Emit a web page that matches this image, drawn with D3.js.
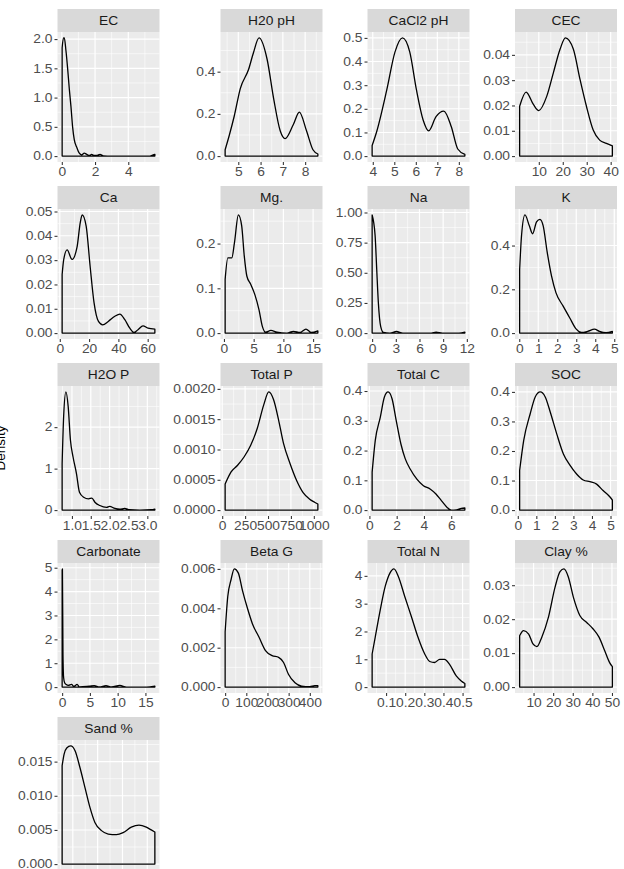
<!DOCTYPE html>
<html>
<head>
<meta charset="utf-8">
<script src="https://cdn.jsdelivr.net/npm/d3@7"></script>
<style>
  body { margin: 0; background: #fff; }
  text { font-family: "Liberation Sans", Arial, Helvetica, sans-serif; }
</style>
</head>
<body>
<svg id="chart"></svg>
<script>
// facet names, in reading order
var panelNames = ["EC", "H20 pH", "CaCl2 pH", "CEC",
                  "Ca", "Mg.", "Na", "K",
                  "H2O P", "Total P", "Total C", "SOC",
                  "Carbonate", "Beta G", "Total N", "Clay %",
                  "Sand %"];

// tick labels per facet (free scales)
var xTickLabels = [
  ["0","2","4"], ["5","6","7","8"], ["4","5","6","7","8"], ["10","20","30","40"],
  ["0","20","40","60"], ["0","5","10","15"], ["0","3","6","9","12"], ["0","1","2","3","4","5"],
  ["1.0","1.5","2.0","2.5","3.0"], ["0","250","500","750","1000"], ["0","2","4","6"], ["0","1","2","3","4","5"],
  ["0","5","10","15"], ["0","100","200","300","400"], ["0.1","0.2","0.3","0.4","0.5"], ["10","20","30","40","50"],
  ["20","40","60","80"]
];
var yTickLabels = [
  ["0.0","0.5","1.0","1.5","2.0"], ["0.0","0.2","0.4"], ["0.0","0.1","0.2","0.3","0.4","0.5"], ["0.00","0.01","0.02","0.03","0.04"],
  ["0.00","0.01","0.02","0.03","0.04","0.05"], ["0.0","0.1","0.2"], ["0.00","0.25","0.50","0.75","1.00"], ["0.0","0.2","0.4"],
  ["0","1","2"], ["0.0000","0.0005","0.0010","0.0015","0.0020"], ["0.0","0.1","0.2","0.3","0.4"], ["0.0","0.1","0.2","0.3","0.4"],
  ["0","1","2","3","4","5"], ["0.000","0.002","0.004","0.006"], ["0","1","2","3","4"], ["0.00","0.01","0.02","0.03"],
  ["0.000","0.005","0.010","0.015"]
];

// density estimates: [value, density]
var densEC = [[0.02,1.85],[0.1,2.02],[0.15,2.02],[0.25,1.8],[0.35,1.5],[0.45,1.15],[0.55,0.85],[0.65,0.5],[0.75,0.28],[0.9,0.15],[1.05,0.05],[1.2,0.02],[1.35,0.05],[1.5,0.03],[1.65,0.01],[1.8,0.03],[1.95,0.01],[2.1,0.01],[2.3,0.03],[2.5,0.005],[3,0],[4,0],[5.3,0],[5.5,0.02],[5.6,0.03]];
var densH2OpH = [[4.41,0.03],[4.6,0.1],[4.82,0.19],[5.09,0.32],[5.46,0.41],[5.68,0.49],[5.93,0.56],[6.29,0.46],[6.59,0.27],[6.88,0.12],[7.1,0.083],[7.47,0.15],[7.74,0.208],[8.06,0.12],[8.35,0.03],[8.57,0.01]];
var densCaCl2 = [[3.97,0.045],[4.18,0.103],[4.65,0.28],[5.03,0.44],[5.38,0.5],[5.72,0.44],[6.03,0.28],[6.34,0.153],[6.6,0.107],[6.94,0.167],[7.3,0.19],[7.65,0.124],[7.95,0.03],[8.28,0.007]];
var densCEC = [[2.0,0.0197],[4.7,0.0253],[7.8,0.0203],[10,0.018],[13.3,0.0236],[16.1,0.033],[18.9,0.0423],[21.1,0.0467],[24.4,0.0423],[27.2,0.0303],[29.9,0.0196],[32.7,0.0103],[35.4,0.0063],[38.2,0.005],[40.7,0.004]];
var densCa = [[1.6,0.0241],[2.7,0.0303],[5.0,0.0342],[8.4,0.0303],[11.7,0.0351],[14.0,0.0455],[15.3,0.0486],[18.0,0.044],[20.7,0.0275],[23.4,0.0124],[26.4,0.0048],[29.3,0.0034],[33.1,0.0048],[37.6,0.0069],[41,0.0078],[44.4,0.0055],[47.8,0.002],[50.5,0.0003],[53.4,0.0014],[56.8,0.003],[60.2,0.002],[64.9,0.0016]];
var densMg = [[0.2,0.12],[0.66,0.168],[1.32,0.168],[1.77,0.202],[2.43,0.264],[2.98,0.24],[3.42,0.172],[3.86,0.127],[4.5,0.109],[5.2,0.086],[5.9,0.052],[6.46,0.015],[7.0,0.002],[7.9,0.006],[8.9,0.002],[10.6,0],[11.7,0.004],[12.8,0.0015],[13.8,0.009],[14.7,0.0015],[15.8,0.005]];
var densNa = [[0,0.98],[0.375,0.81],[0.58,0.53],[0.79,0.25],[1.08,0.056],[1.42,0.006],[2.25,0],[3.08,0.014],[3.9,0],[7.5,0],[8.1,0.008],[8.9,0],[11,0],[11.75,0.008]];
var densK = [[0.02,0.29],[0.12,0.446],[0.3,0.54],[0.53,0.49],[0.7,0.454],[0.91,0.508],[1.09,0.52],[1.26,0.49],[1.47,0.37],[1.7,0.26],[1.93,0.185],[2.31,0.123],[2.66,0.069],[3.0,0.018],[3.27,0.003],[3.6,0.008],[3.96,0.018],[4.22,0.008],[4.57,0.002],[4.9,0.008]];
var densH2OP = [[0.74,1.12],[0.78,2.26],[0.84,2.85],[0.9,2.5],[0.96,1.69],[1.03,1.28],[1.12,0.88],[1.2,0.43],[1.31,0.31],[1.44,0.27],[1.53,0.29],[1.61,0.19],[1.74,0.11],[1.92,0.065],[2.0,0.09],[2.14,0.04],[2.27,0.024],[2.4,0.04],[2.53,0.01],[2.8,0],[3.1,0.01],[3.2,0.025]];
var densTotalP = [[32,0.00043],[97,0.00063],[168,0.00074],[240,0.00088],[311,0.00107],[383,0.00135],[454,0.00174],[508,0.00195],[561,0.00182],[615,0.00149],[669,0.0011],[740,0.00077],[812,0.00049],[883,0.00029],[955,0.00018],[1008,0.00013],[1044,0.0001]];
var densTotalC = [[0.2,0.127],[0.43,0.234],[0.8,0.312],[1.1,0.38],[1.37,0.397],[1.66,0.374],[1.97,0.3],[2.31,0.222],[2.63,0.172],[2.99,0.138],[3.48,0.104],[3.96,0.082],[4.45,0.071],[4.88,0.054],[5.29,0.031],[5.7,0.009],[6.0,0],[6.38,0.001],[6.74,0.006],[7.0,0.007]];
var densSOC = [[0.1,0.134],[0.32,0.236],[0.67,0.326],[0.94,0.383],[1.21,0.4],[1.48,0.383],[1.75,0.332],[2.1,0.258],[2.46,0.19],[2.82,0.151],[3.17,0.122],[3.53,0.102],[3.89,0.096],[4.25,0.088],[4.6,0.066],[4.96,0.045],[5.1,0.034]];
var densCarbonate = [[0,4.9],[0.05,4.95],[0.15,1.38],[0.27,0.39],[0.45,0.18],[0.74,0.11],[1.1,0.07],[1.7,0.11],[2.1,0.03],[2.7,0.11],[3.1,0.01],[4.9,0.04],[5.8,0.06],[6.7,0.01],[7.9,0.06],[8.9,0.01],[10.4,0.07],[11.6,0],[15.2,0],[16.7,0.04]];
var densBetaG = [[0,0.0028],[12.4,0.0046],[27.9,0.00545],[43.4,0.006],[62,0.0058],[82,0.0049],[105.4,0.004],[128.7,0.00322],[159.7,0.00254],[190.7,0.00185],[221.7,0.0016],[252.7,0.00151],[276,0.00125],[299,0.00065],[330,0.00022],[361,0.00005],[400,0.00002],[423,0.00007],[438,0.00007]];
var densTotalN = [[0.027,1.19],[0.043,1.79],[0.069,2.76],[0.095,3.61],[0.12,4.1],[0.141,4.25],[0.164,3.98],[0.198,3.25],[0.233,2.52],[0.267,1.79],[0.302,1.19],[0.328,0.92],[0.354,0.885],[0.38,1.0],[0.406,1.0],[0.432,0.82],[0.467,0.4],[0.493,0.22],[0.512,0.13]];
var densClay = [[2.9,0.0151],[4.9,0.0166],[7.5,0.0156],[9.7,0.0127],[11.7,0.0119],[14.2,0.0147],[17.6,0.0206],[21,0.0295],[23.5,0.034],[25.5,0.0348],[27.7,0.0325],[30.3,0.0265],[33.6,0.0211],[37,0.0191],[40.4,0.0171],[43.4,0.0147],[46.3,0.0107],[48.8,0.0072],[50.2,0.006]];
var densSand = [[11.4,0.0144],[13,0.0161],[15.1,0.017],[18.3,0.0173],[21.8,0.0166],[25.8,0.0141],[29.8,0.0112],[33.8,0.0083],[37.8,0.0061],[43.1,0.0049],[48.5,0.0044],[55.1,0.0043],[60.5,0.0046],[67.1,0.0054],[73.3,0.0057],[79.2,0.0054],[83.2,0.005],[86.1,0.0047]];

var curves = [densEC, densH2OpH, densCaCl2, densCEC,
              densCa, densMg, densNa, densK,
              densH2OP, densTotalP, densTotalC, densSOC,
              densCarbonate, densBetaG, densTotalN, densClay,
              densSand];

var svg = d3.select("#chart")
            .attr("width", 624)
            .attr("height", 869);

// layout
var colLeft = [57.5, 220.5, 367.5, 515];
var panelW = 102;
var stripH = 23;
var plotH = 130;
var rowStep = 177;
var top0 = 9;
var fontSize = 12;
var sx = 1.15;   // the source text is a little wider than it is tall

// minor breaks: halfway between majors, one extra either side
var minorBreaks = function(ticks, domain)
{
  if (ticks.length < 2) return [];
  var step = ticks[1] - ticks[0];
  var out = [];
  for (var v = ticks[0] - step / 2; v <= domain[1]; v += step)
  {
    if (v >= domain[0]) out.push(v);
  }
  return out;
}

var line = d3.line()
             .x(function(d) { return d[0]; })
             .y(function(d) { return d[1]; })
             .curve(d3.curveMonotoneX);

panelNames.forEach(function(name, i)
{
  var col = i % 4;
  var row = Math.floor(i / 4);
  var left = colLeft[col];
  var stripTop = top0 + row * rowStep;
  var plotTop = stripTop + stripH;

  var pts = curves[i];
  var xExt = d3.extent(pts, function(d) { return d[0]; });
  var xPad = (xExt[1] - xExt[0]) * 0.05;
  var yMax = d3.max(pts, function(d) { return d[1]; });

  var xScale = d3.scaleLinear()
                 .domain([xExt[0] - xPad, xExt[1] + xPad])
                 .range([0, panelW]);
  var yScale = d3.scaleLinear()
                 .domain([-yMax * 0.05, yMax * 1.05])
                 .range([plotH, 0]);

  var xTicks = xTickLabels[i].map(Number);
  var yTicks = yTickLabels[i].map(Number);

  var g = svg.append("g")
             .attr("transform", "translate(" + left + "," + plotTop + ")");

  // strip
  svg.append("rect")
     .attr("x", left)
     .attr("y", stripTop)
     .attr("width", panelW)
     .attr("height", stripH)
     .attr("fill", "#D9D9D9");
  svg.append("text")
     .attr("transform", "translate(" + (left + panelW / 2) + "," + (stripTop + stripH / 2 + 4.3) + ") scale(" + sx + ",1)")
     .attr("text-anchor", "middle")
     .attr("font-size", fontSize)
     .attr("fill", "#1A1A1A")
     .text(name);

  // panel background
  g.append("rect")
   .attr("width", panelW)
   .attr("height", plotH)
   .attr("fill", "#EBEBEB");

  // minor grid
  g.selectAll(".xminor")
   .data(minorBreaks(xTicks, xScale.domain()))
   .enter()
   .append("line")
   .attr("x1", function(d) { return xScale(d); })
   .attr("x2", function(d) { return xScale(d); })
   .attr("y1", 0)
   .attr("y2", plotH)
   .attr("stroke", "#fff")
   .attr("stroke-width", 0.6);
  g.selectAll(".yminor")
   .data(minorBreaks(yTicks, yScale.domain()))
   .enter()
   .append("line")
   .attr("y1", function(d) { return yScale(d); })
   .attr("y2", function(d) { return yScale(d); })
   .attr("x1", 0)
   .attr("x2", panelW)
   .attr("stroke", "#fff")
   .attr("stroke-width", 0.6);

  // major grid
  g.selectAll(".xmajor")
   .data(xTicks)
   .enter()
   .append("line")
   .attr("x1", function(d) { return xScale(d); })
   .attr("x2", function(d) { return xScale(d); })
   .attr("y1", 0)
   .attr("y2", plotH)
   .attr("stroke", "#fff")
   .attr("stroke-width", 1.2);
  g.selectAll(".ymajor")
   .data(yTicks)
   .enter()
   .append("line")
   .attr("y1", function(d) { return yScale(d); })
   .attr("y2", function(d) { return yScale(d); })
   .attr("x1", 0)
   .attr("x2", panelW)
   .attr("stroke", "#fff")
   .attr("stroke-width", 1.1);

  // density outline (closed polygon like old geom_density)
  var scaled = pts.map(function(d) { return [xScale(d[0]), yScale(d[1])]; });
  var y0 = yScale(0);
  var path = "M" + scaled[0][0] + "," + y0 +
             line(scaled).replace(/^M/, "L") +
             "L" + scaled[scaled.length - 1][0] + "," + y0 + "Z";
  g.append("path")
   .attr("d", path)
   .attr("fill", "none")
   .attr("stroke", "#000")
   .attr("stroke-width", 1.3)
   .attr("stroke-linejoin", "round");

  // axes
  var xAxis = d3.axisBottom(xScale)
                .tickValues(xTicks)
                .tickFormat(function(d, k) { return xTickLabels[i][k]; })
                .tickSize(3)
                .tickPadding(2);
  var yAxis = d3.axisLeft(yScale)
                .tickValues(yTicks)
                .tickFormat(function(d, k) { return yTickLabels[i][k]; })
                .tickSize(3)
                .tickPadding(2);

  var gx = g.append("g")
            .attr("transform", "translate(0," + plotH + ")")
            .call(xAxis);
  var gy = g.append("g").call(yAxis);

  [gx, gy].forEach(function(a)
  {
    a.select(".domain").remove();
    a.selectAll(".tick line").attr("stroke", "#333333").attr("stroke-width", 1.07);
    a.selectAll(".tick text")
     .attr("fill", "#4D4D4D")
     .attr("font-size", fontSize)
     .attr("font-family", "\"Liberation Sans\", Arial, sans-serif");
  });
  // widen labels about their anchor
  gx.selectAll(".tick text").attr("transform", "scale(" + sx + ",1)");
  gy.selectAll(".tick text").attr("transform", "matrix(" + sx + ",0,0,1," + ((1 - sx) * -5) + ",0)");
});

// y title, mostly cut off at the left edge as in the source
svg.append("text")
   .attr("transform", "translate(5,448) rotate(-90)")
   .attr("text-anchor", "middle")
   .attr("font-size", 13.5)
   .attr("fill", "#000")
   .text("Density");
</script>
</body>
</html>
